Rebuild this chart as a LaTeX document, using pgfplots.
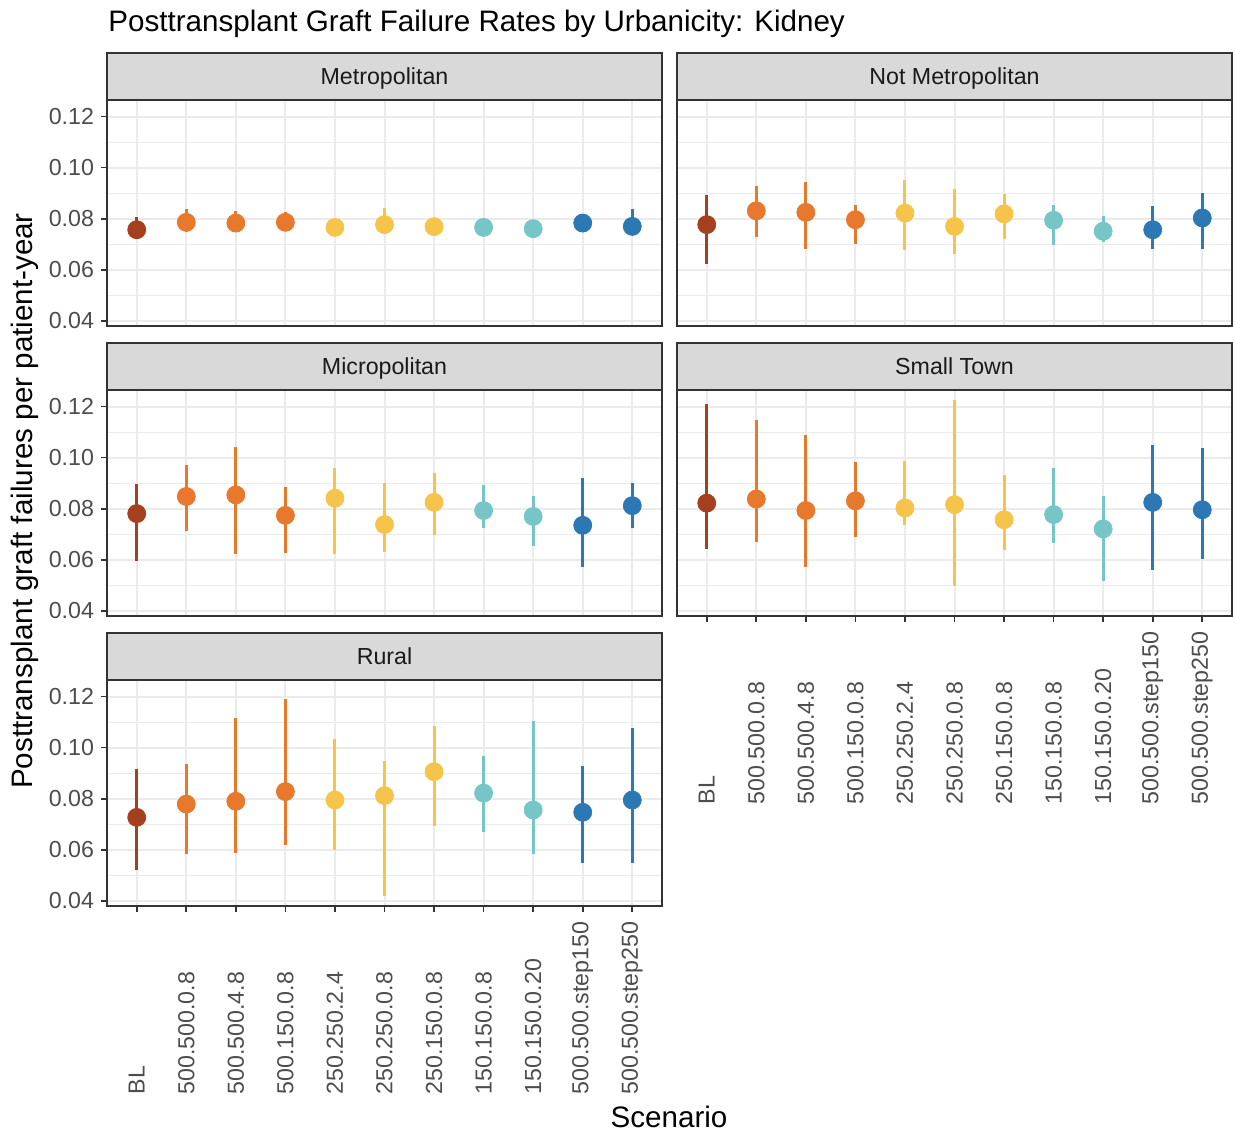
\documentclass[border=0pt]{standalone}
\usepackage{pgfplots}
\pgfplotsset{compat=1.18}
\usepackage{pgfplotstable}
\usepackage{fontspec}
\setmainfont{Liberation Sans}

\definecolor{c1}{HTML}{A4401E}
\definecolor{c2}{HTML}{E8782C}
\definecolor{c3}{HTML}{F7C44B}
\definecolor{c4}{HTML}{76C6C7}
\definecolor{c5}{HTML}{2C78B5}
\definecolor{gridc}{HTML}{EBEBEB}
\definecolor{border}{HTML}{333333}
\definecolor{stripc}{HTML}{D9D9D9}
\definecolor{ticktext}{HTML}{4D4D4D}
\definecolor{striptext}{HTML}{1A1A1A}

\pgfplotstableread{
x y lo hi
1 0.0757 0.0720 0.0807
2 0.0786 0.0750 0.0838
3 0.0783 0.0750 0.0831
4 0.0786 0.0752 0.0827
5 0.0766 0.0740 0.0790
6 0.0777 0.0745 0.0842
7 0.0769 0.0742 0.0795
8 0.0766 0.0737 0.0790
9 0.0761 0.0735 0.0788
10 0.0783 0.0755 0.0808
11 0.0770 0.0740 0.0838
}\tMetro

\pgfplotstableread{
x y lo hi
1 0.0777 0.0621 0.0893
2 0.0831 0.0729 0.0928
3 0.0825 0.0680 0.0945
4 0.0796 0.0703 0.0854
5 0.0822 0.0677 0.0951
6 0.0770 0.0660 0.0915
7 0.0819 0.0721 0.0897
8 0.0794 0.0699 0.0854
9 0.0751 0.0710 0.0812
10 0.0757 0.0680 0.0848
11 0.0803 0.0680 0.0900
}\tNotMetro

\pgfplotstableread{
x y lo hi
1 0.0781 0.0595 0.0896
2 0.0848 0.0712 0.0971
3 0.0854 0.0621 0.1040
4 0.0774 0.0628 0.0887
5 0.0841 0.0621 0.0958
6 0.0738 0.0632 0.0900
7 0.0825 0.0699 0.0941
8 0.0793 0.0725 0.0893
9 0.0770 0.0656 0.0850
10 0.0735 0.0572 0.0919
11 0.0812 0.0725 0.0900
}\tMicro

\pgfplotstableread{
x y lo hi
1 0.0822 0.0644 0.1210
2 0.0838 0.0671 0.1148
3 0.0793 0.0570 0.1090
4 0.0831 0.0690 0.0984
5 0.0803 0.0738 0.0988
6 0.0816 0.0498 0.1226
7 0.0757 0.0640 0.0932
8 0.0777 0.0664 0.0958
9 0.0721 0.0518 0.0850
10 0.0825 0.0560 0.1049
11 0.0796 0.0602 0.1036
}\tSmall

\pgfplotstableread{
x y lo hi
1 0.0727 0.0520 0.0915
2 0.0779 0.0585 0.0937
3 0.0790 0.0588 0.1116
4 0.0828 0.0617 0.1191
5 0.0795 0.0598 0.1032
6 0.0812 0.0419 0.0948
7 0.0906 0.0695 0.1083
8 0.0822 0.0669 0.0967
9 0.0756 0.0583 0.1106
10 0.0747 0.0549 0.0928
11 0.0795 0.0549 0.1077
}\tRural

\newcommand{\ticksize}{\fontsize{11.6pt}{13pt}\selectfont}

\pgfplotsset{
  panel/.style={
    scale only axis, width=277.5pt, height=113pt,
    anchor=south west,
    xmin=0.4, xmax=11.6, ymin=0.038, ymax=0.1265,
    xtick={1,2,3,4,5,6,7,8,9,10,11},
    ytick={0.04,0.06,0.08,0.10,0.12},
    minor ytick={0.05,0.07,0.09,0.11},
    yticklabels={0.04,0.06,0.08,0.10,0.12},
    grid=both,
    major grid style={color=gridc, line width=1pt},
    minor grid style={color=gridc, line width=0.5pt},
    axis line style={color=border, line width=0.8pt},
    tick align=outside, tick pos=left,
    tick style={color=border, line width=0.8pt},
    major tick length=3pt, minor tick length=0pt,
    ticklabel style={font=\ticksize, text=ticktext},
    clip=true,
  },
  noxlab/.style={xticklabels={}, xtick style={draw=none}},
  noylab/.style={yticklabels={}, ytick style={draw=none}},
  xlab/.style={
    xticklabels={BL,500.500.0.8,500.500.4.8,500.150.0.8,250.250.2.4,250.250.0.8,250.150.0.8,150.150.0.8,150.150.0.20,500.500.step150,500.500.step250},
    xticklabel style={rotate=90, anchor=east, text width=88pt, align=left, inner xsep=3pt},
  },
  pr/.style={only marks, mark=*, mark size=4.5pt,
    error bars/y dir=both, error bars/y explicit, error bars/error mark=none,
    error bars/error bar style={line width=1.5pt}},
}

\newcommand{\grpplots}[1]{%
  \addplot[pr, color=c1, restrict x to domain=0.5:1.5] table[x=x, y=y, y error plus expr={\thisrow{hi}-\thisrow{y}}, y error minus expr={\thisrow{y}-\thisrow{lo}}] {#1};
  \addplot[pr, color=c2, restrict x to domain=1.5:4.5] table[x=x, y=y, y error plus expr={\thisrow{hi}-\thisrow{y}}, y error minus expr={\thisrow{y}-\thisrow{lo}}] {#1};
  \addplot[pr, color=c3, restrict x to domain=4.5:7.5] table[x=x, y=y, y error plus expr={\thisrow{hi}-\thisrow{y}}, y error minus expr={\thisrow{y}-\thisrow{lo}}] {#1};
  \addplot[pr, color=c4, restrict x to domain=7.5:9.5] table[x=x, y=y, y error plus expr={\thisrow{hi}-\thisrow{y}}, y error minus expr={\thisrow{y}-\thisrow{lo}}] {#1};
  \addplot[pr, color=c5, restrict x to domain=9.5:11.5] table[x=x, y=y, y error plus expr={\thisrow{hi}-\thisrow{y}}, y error minus expr={\thisrow{y}-\thisrow{lo}}] {#1};
}

\newcommand{\strip}[2]{%
  \draw[fill=stripc, draw=border, line width=0.8pt] (#1.north west) rectangle ([yshift=23.5pt]#1.north east);
  \node[font=\ticksize, text=striptext, anchor=base, inner sep=0pt] at ([yshift=7.6pt]#1.north) {#2};
}

\begin{document}
\begin{tikzpicture}
\useasboundingbox (0,0) rectangle (617.5pt,567.5pt);

\begin{axis}[panel, noxlab, name=pA, at={(53.5pt,404.5pt)}]
\grpplots{\tMetro}
\end{axis}
\strip{pA}{Metropolitan}

\begin{axis}[panel, noxlab, noylab, name=pB, at={(338.5pt,404.5pt)}]
\grpplots{\tNotMetro}
\end{axis}
\strip{pB}{Not Metropolitan}

\begin{axis}[panel, noxlab, name=pC, at={(53.5pt,259.5pt)}]
\grpplots{\tMicro}
\end{axis}
\strip{pC}{Micropolitan}

\begin{axis}[panel, xlab, noylab, name=pD, at={(338.5pt,259.5pt)}]
\grpplots{\tSmall}
\end{axis}
\strip{pD}{Small Town}

\begin{axis}[panel, xlab, name=pE, at={(53.5pt,114.5pt)}]
\grpplots{\tRural}
\end{axis}
\strip{pE}{Rural}

\node[anchor=base west, inner sep=0pt, font=\fontsize{14.8pt}{17pt}\selectfont] at (54pt,551.5pt) {Posttransplant Graft Failure Rates by Urbanicity: Kidney};
\node[rotate=90, font=\fontsize{14.8pt}{17pt}\selectfont] at (12.5pt,317pt) {Posttransplant graft failures per patient-year};
\node[font=\fontsize{14.8pt}{17pt}\selectfont] at (334.5pt,9pt) {Scenario};
\end{tikzpicture}
\end{document}
